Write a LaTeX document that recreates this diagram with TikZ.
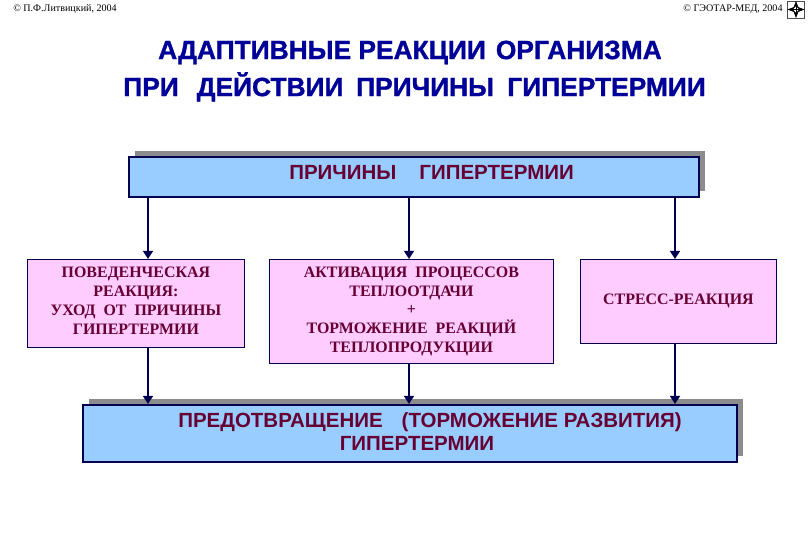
\documentclass[tikz,border=0pt]{standalone}
\usepackage{fontspec}
\setmainfont{Liberation Serif}
\setsansfont{Liberation Sans}
\newfontfamily\heavyfont[FakeBold=1.2]{Liberation Sans Bold}
\definecolor{titleblue}{HTML}{000099}
\definecolor{edgenavy}{HTML}{000050}
\definecolor{boxblue}{HTML}{99CCFF}
\definecolor{boxpink}{HTML}{FFCCFF}
\definecolor{wine}{HTML}{660033}
\usetikzlibrary{arrows.meta,positioning,shadows}
\begin{document}
\begin{tikzpicture}[
  x=0.03cm, y=-0.03cm,
  causebox/.style={draw=edgenavy, line width=1.7pt, fill=boxblue, anchor=north west, inner sep=0pt,
    copy shadow={shadow xshift=0.18cm, shadow yshift=0.18cm, fill=gray!90, draw=none},
    align=center, text=wine, font=\sffamily\bfseries\fontsize{17.5}{19.6}\selectfont},
  reactbox/.style={draw=edgenavy, line width=0.7pt, fill=boxpink, anchor=north west, inner sep=0pt,
    align=center, text=wine, font=\bfseries\fontsize{13.6}{16.2}\selectfont},
  flow/.style={draw=edgenavy, line width=2.5pt, -{Triangle[length=7pt,width=8.5pt]}},
  titletext/.style={text=titleblue, font=\heavyfont\fontsize{22.5}{31.6}\selectfont, align=center},
  note/.style={font=\fontsize{8.6}{10}\selectfont},
]
  \useasboundingbox (0,0) rectangle (810,540);
  % header
  \node[note] (left) at (65,9) {© П.Ф.Литвицкий, 2004};
  \node[note] (right) at (733,9) {© ГЭОТАР-МЕД, 2004};
  \node[draw=black!70, minimum width=0.5cm, minimum height=0.5cm, inner sep=0pt] (icon) at (796,9.5) {};
  \draw[<->, >=Stealth, line width=0.8pt] (icon.west) -- (icon.east);
  \draw[<->, >=Stealth, line width=0.8pt] (icon.north) -- (icon.south);
  \node[titletext] (title) at (414.5,71)
    {АДАПТИВНЫЕ РЕАКЦИИ\hspace{0.3cm}ОРГАНИЗМА\hspace*{0.27cm}\\ПРИ\hspace{0.54cm}ДЕЙСТВИИ\hspace{0.38cm}ПРИЧИНЫ\hspace{0.4cm}ГИПЕРТЕРМИИ};
  % boxes
  \node[causebox, minimum width=17.1cm, minimum height=1.2cm] (cause) at (128,156)
    {\raisebox{0.27cm}{\hspace*{1.05cm}ПРИЧИНЫ\hspace{0.69cm}ГИПЕРТЕРМИИ}};
  \node[reactbox, text depth=0.15cm, minimum width=6.51cm, minimum height=2.64cm] (behav) at (27,259)
    {ПОВЕДЕНЧЕСКАЯ\\РЕАКЦИЯ:\\УХОД\ \ ОТ\ \ ПРИЧИНЫ\\ГИПЕРТЕРМИИ};
  \node[reactbox, minimum width=8.52cm, minimum height=3.12cm] (heat) at (269,259)
    {АКТИВАЦИЯ\ \ ПРОЦЕССОВ\\ТЕПЛООТДАЧИ\\+\\ТОРМОЖЕНИЕ\ \ РЕАКЦИЙ\\ТЕПЛОПРОДУКЦИИ};
  \node[reactbox, minimum width=5.88cm, minimum height=2.52cm] (stress) at (580,259)
    {СТРЕСС-РЕАКЦИЯ};
  \node[causebox, text depth=0.09cm, minimum width=19.62cm, minimum height=1.71cm] (prevent) at (82,404)
    {\hspace*{1.2cm}ПРЕДОТВРАЩЕНИЕ\hspace{0.57cm}(ТОРМОЖЕНИЕ РАЗВИТИЯ)\\\hspace*{0.42cm}ГИПЕРТЕРМИИ};
  % arrows
  \draw[flow] (cause.south -| 148,0) -- (behav.north -| 148,0);
  \draw[flow] (cause.south -| 409,0) -- (heat.north -| 409,0);
  \draw[flow] (cause.south -| 675,0) -- (stress.north -| 675,0);
  \draw[flow] (behav.south -| 148,0) -- (prevent.north -| 148,0);
  \draw[flow] (heat.south -| 409,0) -- (prevent.north -| 409,0);
  \draw[flow] (stress.south -| 675,0) -- (prevent.north -| 675,0);
\end{tikzpicture}
\end{document}
